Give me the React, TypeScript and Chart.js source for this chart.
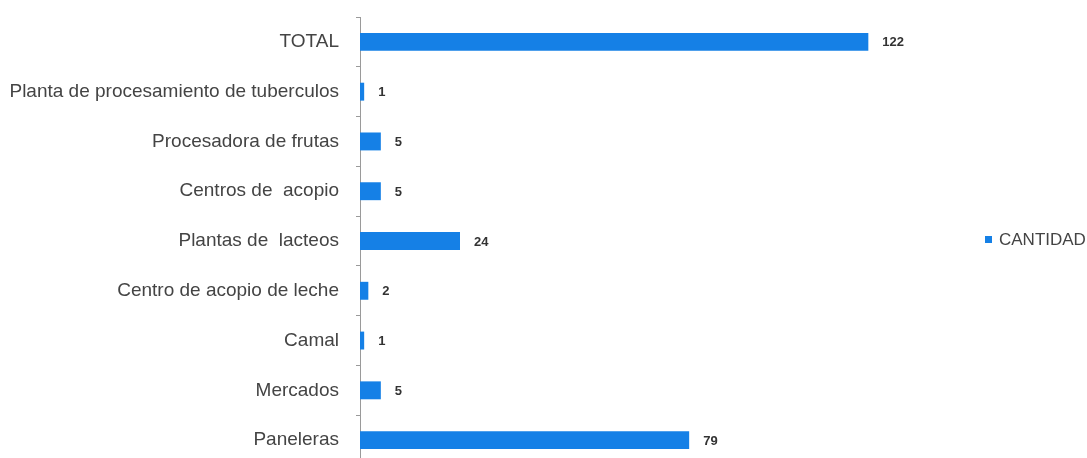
import React, { useEffect, useRef } from "react";
import { Chart, registerables } from "chart.js";

Chart.register(...registerables);

const categories: string[] = [
  "TOTAL",
  "Planta de procesamiento de tuberculos",
  "Procesadora de frutas",
  "Centros de  acopio",
  "Plantas de  lacteos",
  "Centro de acopio de leche",
  "Camal",
  "Mercados",
  "Paneleras",
];

const cantidad: number[] = [122, 1, 5, 5, 24, 2, 1, 5, 79];

const seriesName = "CANTIDAD";
const xMax = 144;
const barColor = "#1580E6";
const FONT = "'Liberation Sans', Arial, sans-serif";
const W = 1087;
const H = 472;

const valueLabels = {
  id: "valueLabels",
  afterDatasetsDraw(chart: any) {
    const ctx = chart.ctx;
    const meta = chart.getDatasetMeta(0);
    ctx.save();
    ctx.font = `bold 13px ${FONT}`;
    ctx.fillStyle = "#333333";
    ctx.textAlign = "left";
    ctx.textBaseline = "middle";
    meta.data.forEach((bar: any, i: number) => {
      ctx.fillText(String(cantidad[i]), bar.x + 14, bar.y + 1);
    });
    ctx.restore();
  },
};

const sideLegend = {
  id: "sideLegend",
  afterDraw(chart: any) {
    const ctx = chart.ctx;
    const area = chart.chartArea;
    const cy = (area.top + area.bottom) / 2 - 1;
    const x = area.right + 25;
    ctx.save();
    ctx.fillStyle = barColor;
    ctx.fillRect(x, cy - 4, 7, 7);
    ctx.font = `17px ${FONT}`;
    ctx.fillStyle = "#444444";
    ctx.textAlign = "left";
    ctx.textBaseline = "middle";
    ctx.fillText(seriesName, x + 14, cy);
    ctx.restore();
  },
};

export default function App() {
  const canvasRef = useRef<HTMLCanvasElement | null>(null);

  useEffect(() => {
    if (!canvasRef.current) return;
    const chart = new Chart(canvasRef.current, {
      type: "bar",
      data: {
        labels: categories,
        datasets: [
          {
            label: seriesName,
            data: cantidad,
            backgroundColor: barColor,
            borderWidth: 0,
            barPercentage: 0.36,
            categoryPercentage: 1,
          },
        ],
      },
      options: {
        indexAxis: "y",
        animation: false,
        responsive: false,
        maintainAspectRatio: false,
        layout: { padding: { left: 0, top: 17, bottom: 7, right: 127 } },
        plugins: {
          legend: { display: false },
          tooltip: { enabled: false },
        },
        scales: {
          x: {
            display: false,
            min: 0,
            max: xMax,
            grid: { display: false },
          },
          y: {
            offset: true,
            afterFit(scale: any) {
              scale.width = 360;
              scale.paddingTop = 0;
              scale.paddingBottom = 0;
            },
            border: { display: true, color: "#9a9a9a", width: 1 },
            grid: {
              display: true,
              drawOnChartArea: false,
              drawTicks: true,
              tickLength: 4,
              offset: true,
              color: "#9a9a9a",
            },
            ticks: {
              color: "#444444",
              padding: 17,
              font: { family: FONT, size: 19 },
            },
          },
        },
      },
      plugins: [valueLabels, sideLegend],
    });
    return () => chart.destroy();
  }, []);

  return (
    <div
      style={{
        position: "fixed",
        left: 0,
        top: 0,
        width: W,
        height: H,
        background: "#ffffff",
      }}
    >
      <canvas ref={canvasRef} width={W} height={H} style={{ display: "block" }} />
    </div>
  );
}
